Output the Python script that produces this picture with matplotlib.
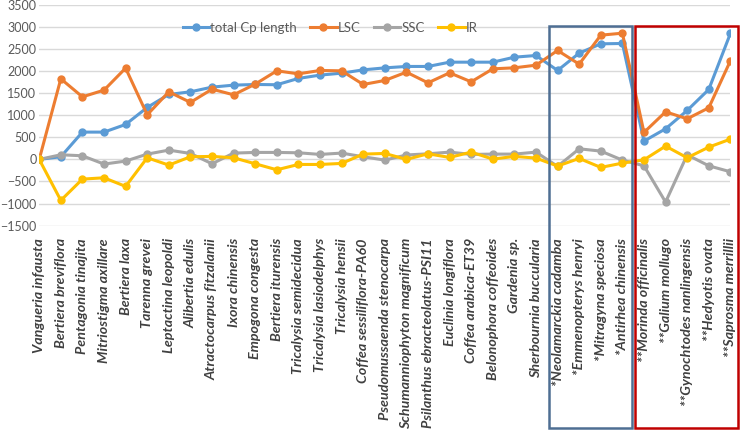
import numpy as np
import matplotlib
matplotlib.use("Agg")
import matplotlib.pyplot as plt
import matplotlib.transforms as mtransforms
from matplotlib.patches import Rectangle

plt.rcParams["font.family"] = ["Lato", "DejaVu Sans"]

# --- dane ---
species = [
    "Vangueria infausta", "Bertiera breviflora", "Pentagonia tinajita",
    "Mitriostigma axillare", "Bertiera laxa", "Tarenna grevei",
    "Leptactina leopoldi", "Alibertia edulis", "Atractocarpus fitzalanii",
    "Ixora chinensis", "Empogona congesta", "Bertiera iturensis",
    "Tricalysia semidecidua", "Tricalysia lasiodelphys", "Tricalysia hensii",
    "Coffea sessiliflora-PA60", "Pseudomussaenda stenocarpa",
    "Schumanniophyton magnificum", "Psilanthus ebracteolatus-PSI11",
    "Euclinia longiflora", "Coffea arabica-ET39", "Belonophora coffeoides",
    "Gardenia sp.", "Sherbournia buccularia", "*Neolamarckia cadamba",
    "*Emmenopterys henryi", "*Mitragyna speciosa", "*Antirhea chinensis",
    "**Morinda officinalis", "**Galium mollugo", "**Gynochtodes nanlingensis",
    "**Hedyotis ovata", "**Saprosma merrillii",
]

total_cp = [0, 60, 618, 618, 791, 1176, 1470, 1530, 1636, 1681, 1696, 1690,
            1833, 1908, 1952, 2027, 2072, 2104, 2104, 2201, 2201, 2201, 2314,
            2352, 2013, 2405, 2616, 2624, 414, 693, 1108, 1584, 2850]
lsc = [0, 1824, 1416, 1568, 2066, 1009, 1530, 1290, 1590, 1462, 1704, 2005,
       1937, 2013, 2005, 1696, 1787, 1975, 1733, 1960, 1756, 2050, 2073, 2133,
       2466, 2156, 2812, 2857, 611, 1077, 919, 1168, 2231]
ssc = [0, 105, 82, -106, -38, 120, 210, 135, -99, 143, 158, 158, 150, 113,
       143, 60, -16, 100, 127, 165, 113, 120, 120, 165, -158, 240, 188, -16,
       -145, -966, 104, -145, -280]
ir = [0, -928, -446, -416, -611, 37, -129, 60, 68, 37, -99, -235, -114, -114,
      -91, 120, 135, 0, 127, 45, 165, 7, 68, 30, -150, 22, -181, -84, -9, 301,
      37, 278, 459]

series = [
    ("total Cp length", total_cp, "#5B9BD5"),
    ("LSC", lsc, "#ED7D31"),
    ("SSC", ssc, "#A5A5A5"),
    ("IR", ir, "#FFC000"),
]

fig = plt.figure(figsize=(7.4, 4.34), dpi=100)
ax = fig.add_axes([0.053, 0.48, 0.934, 0.509])

x = np.arange(len(species))
for name, vals, col in series:
    ax.plot(x, vals, color=col, linewidth=2.2, marker="o", markersize=5,
            label=name, zorder=3)

ax.set_xlim(0, len(species) - 1)
ax.set_ylim(-1500, 3500)
ax.set_yticks(np.arange(-1500, 3501, 500))
ax.yaxis.grid(True, color="#D9D9D9", linewidth=1)
ax.set_axisbelow(True)
for side in ("top", "right", "bottom", "left"):
    ax.spines[side].set_visible(False)

ax.set_xticks(x)
ax.set_xticklabels(species, rotation=90, style="italic", fontsize=10.3,
                   color="#404040", fontweight="bold")
ax.tick_params(axis="y", length=0, labelsize=9, colors="#595959", pad=2)
ax.tick_params(axis="x", length=0, pad=9)

ax.legend(loc="center", bbox_to_anchor=(0.421, 0.895), ncol=4, frameon=False,
          fontsize=9.5, labelcolor="#595959", handlelength=2.0,
          handletextpad=0.1, columnspacing=1.0)

# ramki wokół grup
trans = mtransforms.blended_transform_factory(ax.transData, fig.transFigure)
ax.add_patch(Rectangle((23.6, 0.014), 3.85, 0.926, transform=trans,
                       fill=False, edgecolor="#4E6E93", linewidth=1.8,
                       clip_on=False, zorder=5))
ax.add_patch(Rectangle((27.6, 0.014), 4.75, 0.926, transform=trans,
                       fill=False, edgecolor="#C00000", linewidth=1.8,
                       clip_on=False, zorder=5))

fig.savefig("out.png", dpi=100)
